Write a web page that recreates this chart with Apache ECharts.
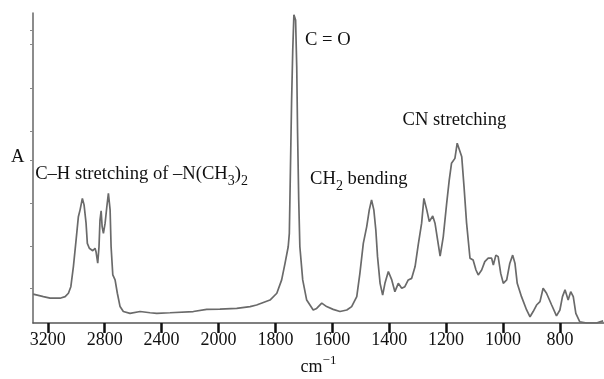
<!DOCTYPE html>
<html>
<head>
<meta charset="utf-8">
<script src="https://cdn.jsdelivr.net/npm/echarts@6/dist/echarts.min.js"></script>
<style>
  html, body { margin: 0; padding: 0; background: #fff; }
  #chart { width: 604px; height: 379px; }
</style>
</head>
<body>
<div id="chart"></div>
<script>
// IR spectrum, wavenumber (cm-1) vs absorbance (arbitrary units, 0-1 of the frame)
const wavenumbers = [
  3303, 3231, 3184, 3114, 3078, 3055, 3038, 3020, 3001, 2985,
  2973, 2957, 2945, 2931, 2922, 2908, 2884, 2868, 2861, 2849,
  2840, 2833, 2825, 2818, 2809, 2797, 2785, 2774, 2762, 2755,
  2743, 2727, 2711, 2692, 2669, 2622, 2551, 2481, 2434, 2341,
  2177, 2083, 1995, 1936, 1889, 1866, 1819, 1795, 1778, 1766,
  1755, 1751, 1749, 1746, 1743, 1739, 1735, 1729, 1725, 1722,
  1718, 1714, 1704, 1690, 1667, 1655, 1637, 1620, 1597, 1573,
  1549, 1532, 1514, 1503, 1491, 1479, 1470, 1462, 1454, 1447,
  1441, 1432, 1423, 1415, 1403, 1391, 1380, 1368, 1356, 1345,
  1333, 1321, 1309, 1298, 1286, 1278, 1268, 1259, 1247, 1239,
  1228, 1221, 1210, 1198, 1189, 1181, 1169, 1161, 1154, 1145,
  1137, 1128, 1116, 1105, 1095, 1087, 1075, 1064, 1052, 1040,
  1034, 1025, 1017, 1008, 999, 987, 976, 966, 958, 950,
  935, 917, 905, 894, 882, 870, 859, 847, 829, 812,
  800, 791, 782, 771, 762, 753, 744, 730, 706, 671,
  659, 648
];
const absorbance = [
  0.093, 0.085, 0.080, 0.080, 0.085, 0.096, 0.117, 0.182, 0.268, 0.343,
  0.365, 0.402, 0.381, 0.322, 0.257, 0.241, 0.233, 0.241, 0.230, 0.193,
  0.246, 0.332, 0.362, 0.311, 0.289, 0.322, 0.375, 0.418, 0.365, 0.246,
  0.155, 0.139, 0.096, 0.053, 0.037, 0.031, 0.037, 0.033, 0.031, 0.033,
  0.037, 0.044, 0.045, 0.047, 0.053, 0.058, 0.074, 0.096, 0.139, 0.193,
  0.246, 0.289, 0.397, 0.558, 0.719, 0.881, 0.994, 0.977, 0.827, 0.612,
  0.397, 0.246, 0.139, 0.074, 0.042, 0.047, 0.064, 0.053, 0.044, 0.037,
  0.042, 0.053, 0.085, 0.160, 0.257, 0.311, 0.365, 0.397, 0.365, 0.300,
  0.214, 0.128, 0.090, 0.128, 0.166, 0.139, 0.101, 0.128, 0.112, 0.117,
  0.139, 0.144, 0.182, 0.252, 0.322, 0.402, 0.365, 0.327, 0.345, 0.322,
  0.257, 0.216, 0.278, 0.386, 0.461, 0.515, 0.531, 0.580, 0.585, 0.536,
  0.440, 0.322, 0.209, 0.203, 0.171, 0.155, 0.171, 0.198, 0.209, 0.209,
  0.187, 0.219, 0.214, 0.160, 0.128, 0.139, 0.193, 0.219, 0.193, 0.128,
  0.085, 0.042, 0.020, 0.037, 0.058, 0.069, 0.112, 0.096, 0.058, 0.023,
  0.042, 0.085, 0.107, 0.074, 0.101, 0.085, 0.031, 0.004, 0.000, 0.000,
  0.004, 0.007
];

const xTicks = [3200, 2800, 2400, 2000, 1800, 1600, 1400, 1200, 1000, 800];
const yTicks = [0.113, 0.248, 0.387, 0.526, 0.619, 0.758, 0.9, 0.945];
const xRange = [645, 3304];

// band labels: text, wavenumber at left edge of text, absorbance at text middle
const bandText = [
  "{t|C–H stretching of –N(CH}{sub|3}{t|)}{sub|2}",
  "{t|C = O}",
  "{t|CH}{sub|2}{t| bending}",
  "{t|CN stretching}"
];
const bandWn = [3289, 1696, 1678, 1353];
const bandAbs = [0.479, 0.911, 0.463, 0.653];

// the instrument halves the scale above 2000 cm-1
const toT = (w) => (w > 2000 ? 1000 + w / 2 : w);
const fromT = (t) => (t > 2000 ? 2 * t - 2000 : t);

const FONT = '"Liberation Serif", "Times New Roman", serif';
const rich = {
  t: { fontSize: 18.6, lineHeight: 20, fontFamily: FONT, color: "#111" },
  sub: { fontSize: 14, lineHeight: 14, padding: [14, 0, 0, 0], fontFamily: FONT, color: "#111" },
  sup: { fontSize: 13, lineHeight: 13, padding: [0, 0, 14, 0], fontFamily: FONT, color: "#111" }
};

const chart = echarts.init(document.getElementById("chart"), null, { renderer: "canvas" });

chart.setOption({
  animation: false,
  backgroundColor: "#fff",
  textStyle: { fontFamily: FONT },
  grid: { left: 33, right: 0, top: 13, bottom: 56, containLabel: false, outerBoundsMode: "none" },
  xAxis: {
    type: "value",
    inverse: true,
    min: toT(xRange[0]),
    max: toT(xRange[1]),
    axisLine: { onZero: false, lineStyle: { color: "#555", width: 1.5 } },
    axisTick: { customValues: xTicks.map(toT), length: 10, lineStyle: { color: "#111", width: 2.5 } },
    axisLabel: {
      customValues: xTicks.map(toT),
      formatter: (v) => String(Math.round(fromT(v))),
      fontSize: 18, lineHeight: 18, fontFamily: FONT, color: "#111", margin: 8
    },
    splitLine: { show: false },
    name: "cm{sup|−1}",
    nameLocation: "middle",
    nameGap: 28,
    nameTextStyle: { fontSize: 18, fontFamily: FONT, color: "#111", rich }
  },
  yAxis: {
    type: "value",
    min: 0,
    max: 1,
    axisLine: { show: true, onZero: false, lineStyle: { color: "#666", width: 1.5 } },
    axisTick: { show: true, customValues: yTicks, length: 3, lineStyle: { color: "#888", width: 1 } },
    axisLabel: { show: false },
    splitLine: { show: false }
  },
  graphic: [
    { type: "text", left: 11, top: 148, style: { text: "A", font: "18.6px " + FONT, fill: "#111" } }
  ],
  series: [
    {
      type: "line",
      data: wavenumbers.map((w, i) => [toT(w), absorbance[i]]),
      showSymbol: false,
      smooth: false,
      lineStyle: { color: "#6a6a6a", width: 1.7 },
      markPoint: {
        symbol: "circle",
        symbolSize: 0,
        silent: true,
        label: {
          show: true,
          position: "inside",
          align: "left",
          verticalAlign: "middle",
          fontSize: 18.6,
          fontFamily: FONT,
          color: "#111",
          rich
        },
        data: bandText.map((txt, i) => ({
          coord: [toT(bandWn[i]), bandAbs[i]],
          label: { formatter: txt }
        }))
      }
    }
  ]
});
</script>
</body>
</html>
